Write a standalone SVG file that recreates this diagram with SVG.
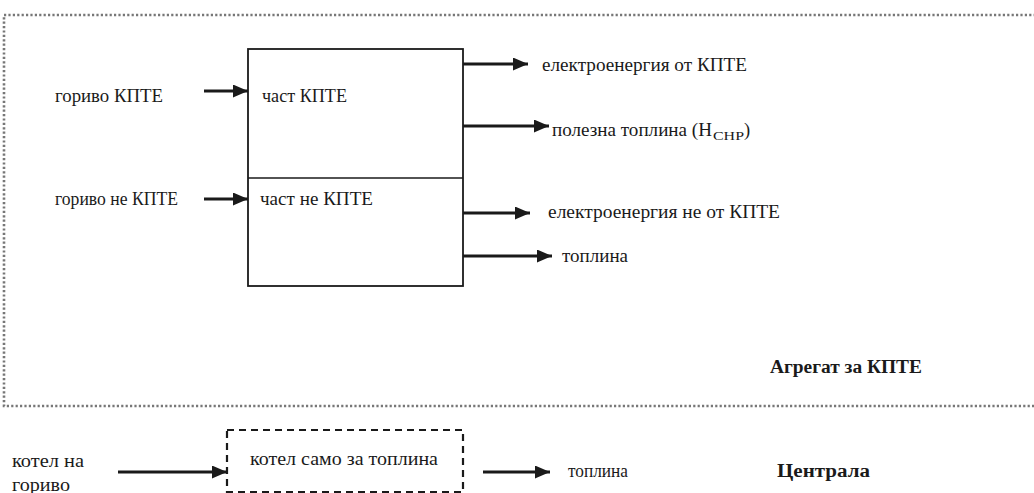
<svg xmlns="http://www.w3.org/2000/svg" width="1034" height="493" viewBox="0 0 1034 493">
  <style>
    text { font-family: "Liberation Serif", "DejaVu Serif", serif; font-size: 18.5px; fill: #1a1a1a; }
    .b { font-weight: bold; }
    .conn { stroke: #1a1a1a; stroke-width: 2.8; fill: none; }
    .box { stroke: #1a1a1a; stroke-width: 1.8; fill: #ffffff; }
    .frame { stroke: #777; stroke-width: 2.6; fill: none; stroke-dasharray: 2.2 2.2; }
    .dash { stroke: #1a1a1a; stroke-width: 2.2; fill: none; stroke-dasharray: 7 5; }
  </style>
  <defs>
    <marker id="ah" markerUnits="userSpaceOnUse" markerWidth="15" markerHeight="13" refX="15" refY="6.5" orient="auto">
      <path d="M0,0 L15,6.5 L0,13 z" fill="#1a1a1a"/>
    </marker>
  </defs>
  <rect width="1034" height="493" fill="#ffffff"/>

  <g id="agregat-frame">
    <rect class="frame" x="4" y="15" width="1050" height="391"/>
    <text class="b" x="770" y="373" textLength="152" lengthAdjust="spacingAndGlyphs">Агрегат  за  КПТЕ</text>
  </g>

  <g id="main-box">
    <rect class="box" x="248" y="49" width="215" height="237"/>
    <line x1="248" y1="178" x2="463" y2="178" stroke="#1a1a1a" stroke-width="1.5"/>
  </g>
  <g id="part-chp">
    <text x="262" y="102" textLength="85" lengthAdjust="spacingAndGlyphs">част  КПТЕ</text>
  </g>
  <g id="part-non-chp">
    <text x="260" y="205" textLength="113" lengthAdjust="spacingAndGlyphs">част  не  КПТЕ</text>
  </g>

  <g id="fuel-chp">
    <text x="55" y="102" textLength="108" lengthAdjust="spacingAndGlyphs">гориво  КПТЕ</text>
  </g>
  <g id="fuel-non-chp">
    <text x="55" y="205" textLength="123" lengthAdjust="spacingAndGlyphs">гориво  не  КПТЕ</text>
  </g>

  <g id="out-el-chp">
    <text x="542" y="71" textLength="205" lengthAdjust="spacingAndGlyphs">електроенергия  от  КПТЕ</text>
  </g>
  <g id="out-heat-chp">
    <text x="552" y="136"><tspan textLength="160" lengthAdjust="spacingAndGlyphs">полезна  топлина  (H</tspan><tspan x="713" y="140" font-size="12.5" textLength="31" lengthAdjust="spacingAndGlyphs">CHP</tspan><tspan x="744" y="136">)</tspan></text>
  </g>
  <g id="out-el-non-chp">
    <text x="548" y="218" textLength="232" lengthAdjust="spacingAndGlyphs">електроенергия  не  от  КПТЕ</text>
  </g>
  <g id="out-heat">
    <text x="562" y="262" textLength="66" lengthAdjust="spacingAndGlyphs">топлина</text>
  </g>

  <g id="boiler-fuel">
    <text x="12" y="467" textLength="72" lengthAdjust="spacingAndGlyphs">котел  на</text>
    <text x="12" y="491" textLength="58" lengthAdjust="spacingAndGlyphs">гориво</text>
  </g>
  <g id="boiler">
    <rect class="dash" x="227" y="430" width="236" height="62"/>
    <text x="250" y="465" textLength="188" lengthAdjust="spacingAndGlyphs">котел  само  за  топлина</text>
  </g>
  <g id="boiler-heat">
    <text x="568" y="477" textLength="60" lengthAdjust="spacingAndGlyphs">топлина</text>
  </g>
  <g id="centrala">
    <text class="b" x="777" y="477" textLength="93" lengthAdjust="spacingAndGlyphs">Централа</text>
  </g>

  <g id="connectors">
    <line class="conn" x1="204" y1="91" x2="248" y2="91" marker-end="url(#ah)"/>
    <line class="conn" x1="204" y1="199" x2="248" y2="199" marker-end="url(#ah)"/>
    <line class="conn" x1="463" y1="64" x2="528" y2="64" marker-end="url(#ah)"/>
    <line class="conn" x1="463" y1="126" x2="549" y2="126" marker-end="url(#ah)"/>
    <line class="conn" x1="463" y1="213" x2="530" y2="213" marker-end="url(#ah)"/>
    <line class="conn" x1="463" y1="256" x2="552" y2="256" marker-end="url(#ah)"/>
    <line class="conn" x1="118" y1="472" x2="227" y2="472" marker-end="url(#ah)"/>
    <line class="conn" x1="483" y1="472" x2="550" y2="472" marker-end="url(#ah)"/>
  </g>
</svg>
